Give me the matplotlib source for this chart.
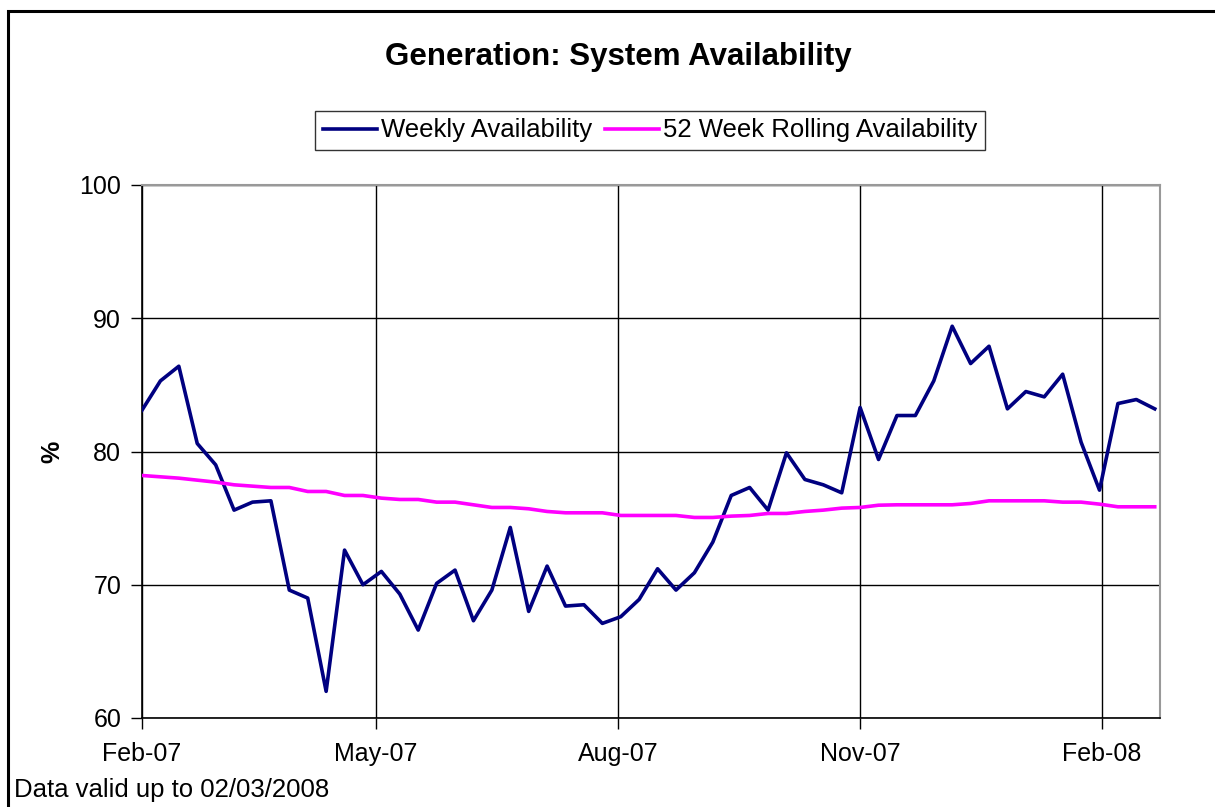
import numpy as np
import pandas as pd
import matplotlib
matplotlib.use("Agg")
import matplotlib.pyplot as plt
from matplotlib.patches import Rectangle

plt.rcParams['font.family'] = ['Liberation Sans', 'DejaVu Sans']

# weekly readings, first week starts early Feb 2007
weeks = pd.date_range('2007-02-04', periods=56, freq='7D')

weekly = [83.1, 85.3, 86.4, 80.6, 79.0, 75.6, 76.2, 76.3, 69.6, 69.0,
          62.0, 72.6, 70.0, 71.0, 69.3, 66.6, 70.1, 71.1, 67.3, 69.6,
          74.3, 68.0, 71.4, 68.4, 68.5, 67.1, 67.6, 68.9, 71.2, 69.6,
          70.9, 73.2, 76.7, 77.3, 75.6, 79.9, 77.9, 77.5, 76.9, 83.3,
          79.4, 82.7, 82.7, 85.3, 89.4, 86.6, 87.9, 83.2, 84.5, 84.1,
          85.8, 80.7, 77.1, 83.6, 83.9, 83.2]

rolling = [78.2, 78.1, 78.0, 77.85, 77.7, 77.5, 77.4, 77.3, 77.3, 77.0,
           77.0, 76.7, 76.7, 76.5, 76.4, 76.4, 76.2, 76.2, 76.0, 75.8,
           75.8, 75.7, 75.5, 75.4, 75.4, 75.4, 75.2, 75.2, 75.2, 75.2,
           75.05, 75.05, 75.15, 75.2, 75.35, 75.35, 75.5, 75.6, 75.75, 75.8,
           75.97, 76.0, 76.0, 76.0, 76.0, 76.1, 76.3, 76.3, 76.3, 76.3,
           76.2, 76.2, 76.05, 75.85, 75.85, 75.85]

tick_dates = pd.to_datetime(['2007-02-04', '2007-05-04', '2007-08-04',
                             '2007-11-04', '2008-02-04'])
tick_labels = ['Feb-07', 'May-07', 'Aug-07', 'Nov-07', 'Feb-08']

W, H = 1215, 807
fig = plt.figure(figsize=(W / 100, H / 100), dpi=100)
ax = fig.add_axes([142 / W, 1 - 718 / H, (1160 - 142) / W, (718 - 185) / H])

# outer chart border (runs off right and bottom edges)
fig.patches.append(Rectangle((8 / W, -0.05), 1.1, 1 - 11 / H + 0.05,
                             transform=fig.transFigure, fill=False,
                             edgecolor='black', linewidth=2.2))

ax.plot(weeks, weekly, color='#000080', linewidth=2.6,
        label='Weekly Availability', zorder=3)
ax.plot(weeks, rolling, color='#FF00FF', linewidth=2.6,
        label='52 Week Rolling Availability', zorder=3)

ax.set_xlim(weeks[0], weeks[-1] + pd.Timedelta(days=2))
ax.set_ylim(60, 100)
ax.set_yticks([60, 70, 80, 90, 100])
ax.set_xticks(tick_dates)
ax.set_xticklabels(tick_labels)
ax.grid(True, color='black', linewidth=1.0)
ax.set_axisbelow(True)

for side in ['top', 'right']:
    ax.spines[side].set_color('#999999')
    ax.spines[side].set_linewidth(1.5)
for side in ['left', 'bottom']:
    ax.spines[side].set_color('black')
    ax.spines[side].set_linewidth(1.2)

ax.tick_params(axis='both', labelsize=18, length=8, width=1, color='black',
               direction='out')
ax.tick_params(axis='x', pad=9)
ax.tick_params(axis='y', pad=7)

fig.text(52 / W, 1 - 452 / H, '%', rotation=90, ha='center', va='center',
         fontsize=18, fontweight='bold')

fig.text(618 / W, 1 - 57 / H, 'Generation: System Availability',
         ha='center', va='center', fontsize=22.5, fontweight='bold')

leg = fig.legend(loc='center', bbox_to_anchor=(650 / W, 1 - 130.5 / H),
                 ncol=2, fontsize=18.5, frameon=True, fancybox=False,
                 edgecolor='black', handlelength=2.1, handletextpad=0.15,
                 columnspacing=0.5, borderpad=0.3)
leg.get_frame().set_linewidth(1.0)

fig.text(14 / W, 1 - 790 / H, 'Data valid up to 02/03/2008',
         ha='left', va='center', fontsize=18.5)

fig.savefig('out.png', dpi=100)
